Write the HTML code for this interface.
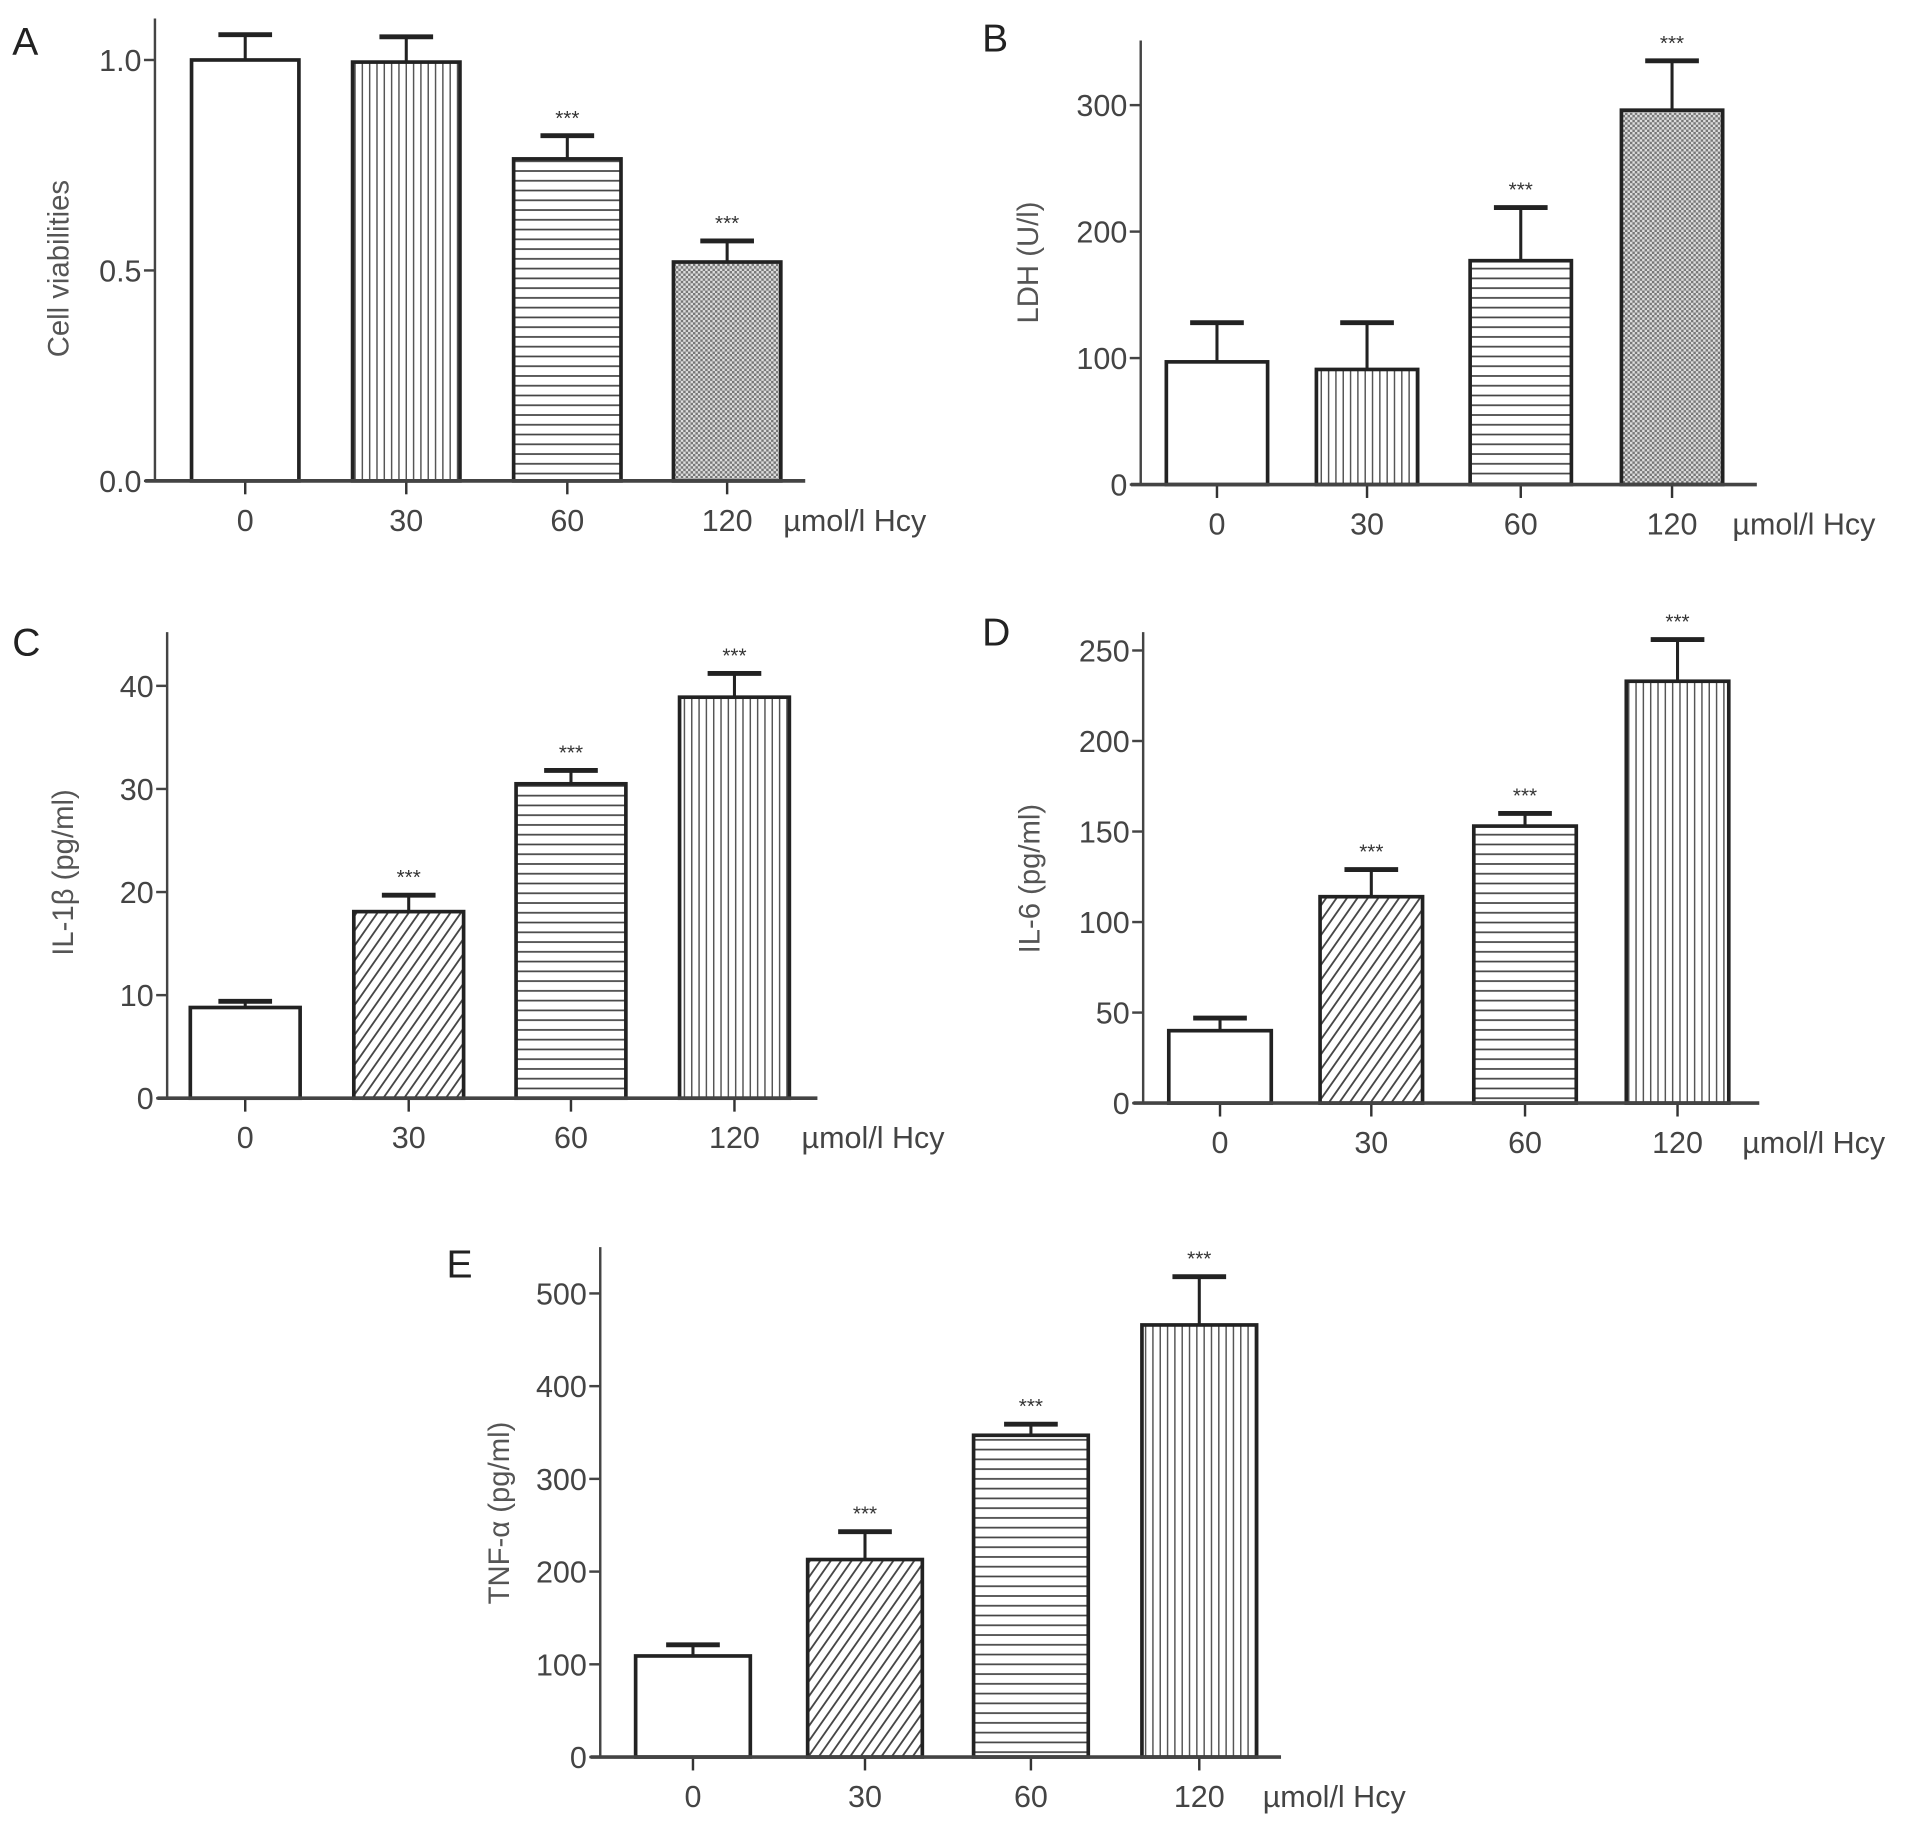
<!DOCTYPE html>
<html><head><meta charset="utf-8"><style>
html,body{margin:0;padding:0;background:#fff;}
svg{display:block;}
text{font-family:"Liberation Sans",sans-serif;}
</style></head><body>
<svg id="fig" width="1913" height="1828" viewBox="0 0 1568 1498" xmlns="http://www.w3.org/2000/svg">
<defs>
<pattern id="p-vert" patternUnits="userSpaceOnUse" width="6" height="6"><rect width="6" height="6" fill="#fff"/><line x1="3" y1="0" x2="3" y2="6" stroke="#555" stroke-width="1.2"/></pattern>
<pattern id="p-horz" patternUnits="userSpaceOnUse" width="6" height="8"><rect width="6" height="8" fill="#fff"/><line x1="0" y1="4" x2="6" y2="4" stroke="#444" stroke-width="1.4"/></pattern>
<pattern id="p-diag" patternUnits="userSpaceOnUse" width="7" height="7" patternTransform="rotate(-55)"><rect width="7" height="7" fill="#fff"/><line x1="0" y1="3.5" x2="7" y2="3.5" stroke="#444" stroke-width="1.5"/></pattern>
<pattern id="p-cross" patternUnits="userSpaceOnUse" width="4" height="4"><rect width="4" height="4" fill="#ddd"/><rect width="2" height="2" fill="#777"/><rect x="2" y="2" width="2" height="2" fill="#777"/></pattern>
</defs>
<g id="root"></g>
</svg>
<script>
const catsAll = ["0","30","60","120"];
// Panel A
const valsA = [1.0, 0.995, 0.765, 0.52];
const errA = [0.06, 0.06, 0.055, 0.05];
const ticksA = [0, 0.5, 1.0];
const tickLabA = ["0.0","0.5","1.0"];
const sigA = ["","","***","***"];
// Panel B
const valsB = [97, 91, 177, 296];
const errB = [31, 37, 42, 39];
const ticksB = [0,100,200,300];
const sigB = ["","","***","***"];
// Panel C
const valsC = [8.8, 18.1, 30.5, 38.9];
const errC = [0.6, 1.6, 1.3, 2.3];
const ticksC = [0,10,20,30,40];
const sigC = ["","***","***","***"];
// Panel D
const valsD = [40, 114, 153, 233];
const errD = [7, 15, 7, 23];
const ticksD = [0,50,100,150,200,250];
const sigD = ["","***","***","***"];
// Panel E
const valsE = [109, 213, 347, 466];
const errE = [12, 30, 12, 52];
const ticksE = [0,100,200,300,400,500];
const sigE = ["","***","***","***"];

const NS = "http://www.w3.org/2000/svg";
const root = document.getElementById('root');
function mk(tag, attrs, parent, txt){
  const e = document.createElementNS(NS, tag);
  for (const k in attrs) e.setAttribute(k, attrs[k]);
  if (txt !== undefined) e.textContent = txt;
  (parent||root).appendChild(e);
  return e;
}
function panel(cfg){
  const g = mk('g', {});
  
  
  const y = v => cfg.y0 - (v - 0) / cfg.vmax * (cfg.y0 - cfg.yTop);
  const L = mk('text', {x: cfg.letterX, y: cfg.letterY, 'font-size': 32, fill: '#222'}, g, cfg.letter);
  
  
  cfg.vals.forEach((v, i) => {
    const x0 = cfg.barX[i], w = cfg.barW, cx = x0 + w/2;
    const top = y(v), et = y(v + cfg.err[i]);
    const eb = mk('line', {x1: cx, y1: top, x2: cx, y2: et, stroke: '#222', 'stroke-width': 2.5}, g);
    
    
    const cap = mk('line', {x1: cx - 22, y1: et, x2: cx + 22, y2: et, stroke: '#222', 'stroke-width': 4}, g);
    
    
    const r = mk('rect', {x: x0, y: top, width: w, height: cfg.y0 - top, fill: cfg.fills[i], stroke: '#222', 'stroke-width': 3}, g);
    
    
    if (cfg.sig[i]) {
      const s = mk('text', {x: cx, y: et - 9, 'font-size': 17, 'text-anchor': 'middle', fill: '#333'}, g, cfg.sig[i]);
      
      
    }
    const t = mk('line', {x1: cx, y1: cfg.y0, x2: cx, y2: cfg.y0 + 11, stroke: '#333', 'stroke-width': 2}, g);
    
    
    const tl = mk('text', {x: cx, y: cfg.y0 + 41, 'font-size': 25, 'text-anchor': 'middle', fill: '#444'}, g, catsAll[i]);
    
    
  });
  const ya = mk('line', {x1: cfg.ax, y1: cfg.yAxTop, x2: cfg.ax, y2: cfg.y0, stroke: '#444', 'stroke-width': 2}, g);
  
  
  const xa = mk('line', {x1: cfg.ax - 8, y1: cfg.y0, x2: cfg.xEnd, y2: cfg.y0, stroke: '#444', 'stroke-width': 3}, g);
  
  
  cfg.ticks.forEach((tv, i) => {
    const ty = y(tv);
    const tk = mk('line', {x1: cfg.ax - 9, y1: ty, x2: cfg.ax, y2: ty, stroke: '#444', 'stroke-width': 2}, g);
    
    
    const lab = cfg.tickLab ? cfg.tickLab[i] : String(tv);
    const tl = mk('text', {x: cfg.ax - 11, y: ty + 9, 'font-size': 25, 'text-anchor': 'end', fill: '#444'}, g, lab);
    
    
  });
  const yt = mk('text', {x: 0, y: 0, 'font-size': 24, 'text-anchor': 'middle', fill: '#555', transform: `translate(${cfg.ytX},${cfg.ytY}) rotate(-90)`}, g, cfg.yTitle);
  
  
  const xt = mk('text', {x: cfg.hcyX, y: cfg.y0 + 41, 'font-size': 25, fill: '#444'}, g, 'µmol/l Hcy');
  
  
}
const W='#fff', V='url(#p-vert)', H='url(#p-horz)', D='url(#p-diag)', X='url(#p-cross)';
panel({letter:'A', letterX:10, letterY:45, vals:valsA, err:errA, ticks:ticksA, tickLab:tickLabA, sig:sigA,
  y0:394, yTop:49, vmax:1.0, yAxTop:15, ax:127, xEnd:660, barX:[157,289,421,552], barW:88,
  fills:[W,V,H,X], yTitle:'Cell  viabilities', ytX:56, ytY:220, hcyX:642});
panel({letter:'B', letterX:805, letterY:42, vals:valsB, err:errB, ticks:ticksB, sig:sigB,
  y0:397, yTop:86, vmax:300, yAxTop:33, ax:935, xEnd:1440, barX:[956,1079,1205,1329], barW:83,
  fills:[W,V,H,X], yTitle:'LDH (U/l)', ytX:851, ytY:215, hcyX:1420});
panel({letter:'C', letterX:10, letterY:537, vals:valsC, err:errC, ticks:ticksC, sig:sigC,
  y0:900, yTop:562, vmax:40, yAxTop:518, ax:137, xEnd:670, barX:[156,290,423,557], barW:90,
  fills:[W,D,H,V], yTitle:'IL-1β (pg/ml)', ytX:60, ytY:715, hcyX:657});
panel({letter:'D', letterX:805, letterY:529, vals:valsD, err:errD, ticks:ticksD, sig:sigD,
  y0:904, yTop:533, vmax:250, yAxTop:518, ax:937, xEnd:1442, barX:[958,1082,1208,1333], barW:84,
  fills:[W,D,H,V], yTitle:'IL-6 (pg/ml)', ytX:852, ytY:720, hcyX:1428});
panel({letter:'E', letterX:366, letterY:1047, vals:valsE, err:errE, ticks:ticksE, sig:sigE,
  y0:1440, yTop:1060, vmax:500, yAxTop:1022, ax:492, xEnd:1050, barX:[521,662,798,936], barW:94,
  fills:[W,D,H,V], yTitle:'TNF-α (pg/ml)', ytX:417, ytY:1240, hcyX:1035});
</script>
</body></html>
